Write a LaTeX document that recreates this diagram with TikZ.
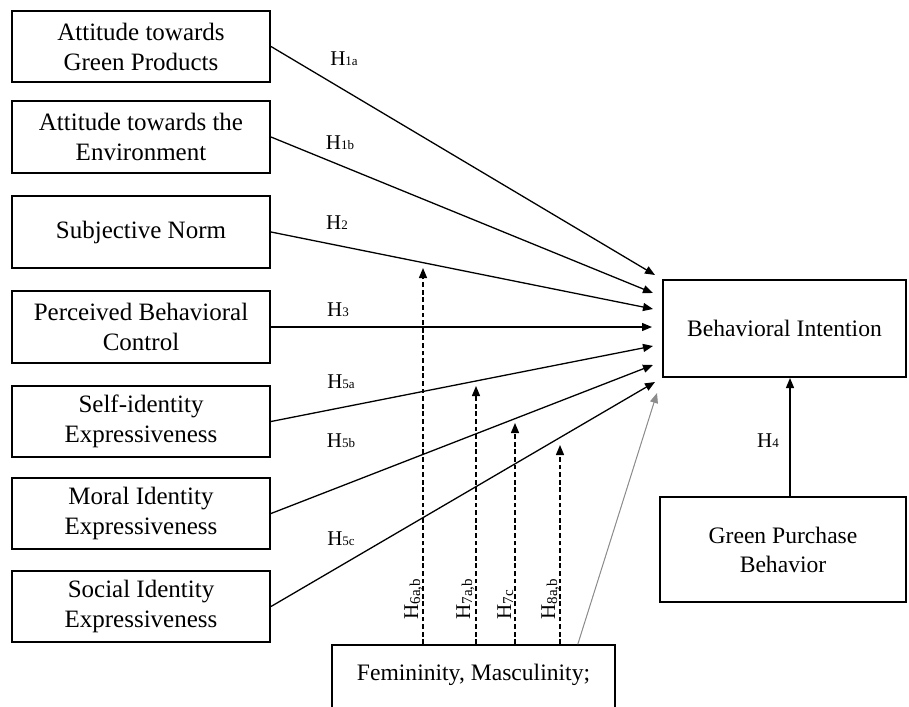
\documentclass[tikz,border=0pt]{standalone}
\usepackage{fontspec}
\setmainfont{Liberation Serif}
\usetikzlibrary{calc,positioning,arrows.meta}
\definecolor{ArrowGray}{HTML}{8C8C8C}

\newcommand{\hyp}[1]{H{\fontsize{6.5}{7}\selectfont #1}}
\newcommand{\hypv}[1]{H\raisebox{-1pt}{\fontsize{7.5}{8}\selectfont #1}}

\tikzset{
  construct/.style={draw, line width=1pt, minimum width=129pt, minimum height=35.75pt,
    align=center, inner sep=2pt, font=\fontsize{12.5}{15}\selectfont},
  outcome/.style={draw, line width=1pt, align=center, inner sep=2pt,
    font=\fontsize{11.8}{14.5}\selectfont},
  moderatorbox/.style={draw, line width=0.8pt, inner xsep=2pt, inner ysep=0pt,
    font=\fontsize{11.8}{14.5}\selectfont},
  effect/.style={-{Triangle[length=5pt,width=4pt]}, line width=0.65pt},
  moderation/.style={effect, dash pattern=on 2.4pt off 1.4pt},
  hyplabel/.style={inner sep=0pt, font=\fontsize{10.5}{12}\selectfont},
}

\begin{document}
\begin{tikzpicture}[x=0.5pt, y=-0.5pt]
  \useasboundingbox (0,0) rectangle (909,706);
  \clip (0,0) rectangle (909,706);

  % predictors
  \node[construct] (atgp) at (141,46.5) {Attitude towards\\Green Products};
  \node[construct] (ate) at (141,137) {Attitude towards the\\Environment};
  \node[construct] (sn) at (141,232) {Subjective Norm};
  \node[construct] (pbc) at (141,327) {Perceived Behavioral\\Control};
  \node[construct] (sie) at (141,421.5) {Self-identity\\Expressiveness};
  \node[construct] (mie) at (141,513.5) {Moral Identity\\Expressiveness};
  \node[construct] (soie) at (141,606.5) {Social Identity\\Expressiveness};

  % outcomes and moderator
  \node[outcome, minimum width=121.5pt, minimum height=48.5pt] (bi) at (784.5,328.5) {Behavioral Intention};
  \node[outcome, minimum width=123pt, minimum height=52.5pt] (gpb) at (783,549.5) {Green Purchase\\Behavior};
  \node[moderatorbox, minimum width=141.5pt, text height=17.5pt, text depth=25pt, anchor=base] (fem) at (473.5,680) {Femininity, Masculinity;};

  % arrow ends in front of the intention box
  \coordinate (e1a) at (655,275);
  \coordinate (e1b) at (653,293);
  \coordinate (e2) at (653,309);
  \coordinate (e3) at (652,327);
  \coordinate (e5a) at (653,346);
  \coordinate (e5b) at (653,365);
  \coordinate (e5c) at (655,382);
  \coordinate (gtip) at (657,393);
  \coordinate (h4) at (790,0);

  % moderation tips
  \coordinate (m6) at (423,268);
  \coordinate (m7ab) at (476,386);
  \coordinate (m7c) at (515,423);
  \coordinate (m8) at (560,445);

  \draw[effect] (atgp.east) -- (e1a);
  \draw[effect] (ate.east) -- (e1b);
  \draw[effect] (sn.east) -- (e2);
  \draw[effect] (pbc.east) -- (e3);
  \draw[effect] (sie.east) -- (e5a);
  \draw[effect] (mie.east) -- (e5b);
  \draw[effect] (soie.east) -- (e5c);
  \draw[effect] (gpb.north -| h4) -- (bi.south -| h4);
  \draw[effect, draw=ArrowGray, fill=ArrowGray, line width=0.5pt] ($(fem.north east)+(-38,0)$) -- (gtip);

  \draw[moderation] (fem.north -| m6) -- (m6);
  \draw[moderation] (fem.north -| m7ab) -- (m7ab);
  \draw[moderation] (fem.north -| m7c) -- (m7c);
  \draw[moderation] (fem.north -| m8) -- (m8);

  % hypothesis labels
  \node[hyplabel] (l1a) at (344,58.5) {\hyp{1a}};
  \node[hyplabel] (l1b) at (340,143) {\hyp{1b}};
  \node[hyplabel] (l2) at (337,223) {\hyp{2}};
  \node[hyplabel] (l3) at (338,310) {\hyp{3}};
  \node[hyplabel] (l5a) at (341,382) {\hyp{5a}};
  \node[hyplabel] (l5b) at (341,441) {\hyp{5b}};
  \node[hyplabel] (l5c) at (341,539) {\hyp{5c}};
  \node[hyplabel] (l4) at (768,441) {\hyp{4}};

  \node[hyplabel, rotate=90, anchor=base west] (l6) at (418,620) {\hypv{6a,b}};
  \node[hyplabel, rotate=90, anchor=base west] (l7ab) at (470,620) {\hypv{7a,b}};
  \node[hyplabel, rotate=90, anchor=base west] (l7c) at (511,620) {\hypv{7c}};
  \node[hyplabel, rotate=90, anchor=base west] (l8) at (555,620) {\hypv{8a,b}};
\end{tikzpicture}
\end{document}
